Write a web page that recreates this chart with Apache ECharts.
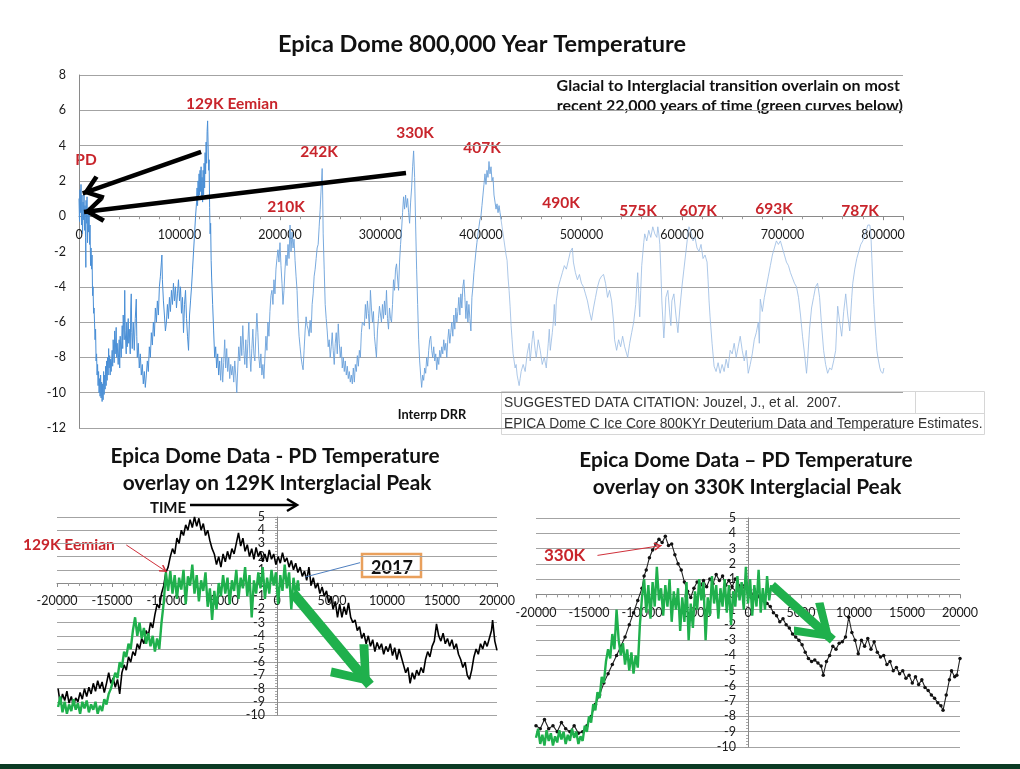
<!DOCTYPE html>
<html><head><meta charset="utf-8">
<script src="https://cdn.jsdelivr.net/npm/echarts@6/dist/echarts.min.js"></script>
<style>html,body{margin:0;padding:0;background:#fff}#c{width:1020px;height:769px}</style>
</head><body><div id="c"></div>
<script>
// ---- Top chart: Epica Dome temperature anomaly, [age kyr BP, deg C] ----
const epicaRecent = [[0,1.0],[0.5,-0.3],[1,1.5],[1.5,0.2],[2,1.8],[2.5,-0.5],[3,1.2],[3.5,-1.0],[4,0.8],[4.5,-0.2],[5,1.3],[5.5,-0.8],[6,0.6],[6.5,-1.2],[6.8,-2.9],[7,0.9],[7.5,-0.4],[8,1.1],[8.5,-1.5],[9,0.4],[9.5,-0.9],[10,0.5],[10.5,-1.6],[11,-0.5],[11.5,-2.8],[12,-1.8],[12.5,-3.0],[13,-2.2],[13.5,-4.5],[14,-4.0],[14.5,-5.5],[15,-5.2],[16,-7.0],[16.5,-6.4],[17,-8.2],[17.5,-7.8],[18,-9.0],[18.5,-8.4],[19,-9.6],[19.5,-8.8],[20,-10.0],[20.5,-9.2],[21,-10.2],[21.5,-9.0],[22,-10.3],[22.5,-9.4],[23,-10.5],[23.5,-9.5],[24,-10.4],[24.5,-8.8],[25,-10.1],[25.5,-9.0],[26,-9.8],[26.5,-8.5],[27,-9.6],[27.5,-8.2],[28,-9.3],[28.5,-8.0],[29,-9.0],[29.5,-7.5],[30,-8.6],[30.5,-7.9],[31,-9.0],[31.5,-8.1],[32,-8.8],[33,-7.6],[33.5,-8.5],[34,-7.0],[35,-8.3],[35.5,-6.5],[36,-7.8],[37,-6.3],[37.5,-8.0],[38,-7.2],[39,-8.4],[40,-7.0],[40.5,-8.6],[41,-6.8],[42,-8.0],[43,-6.2],[43.5,-7.5],[44,-5.6],[45,-7.0],[45.5,-4.2],[46,-6.5],[47,-7.8],[47.5,-6.0],[48,-7.4],[49,-5.8],[49.5,-7.2],[50,-6.4],[51,-7.8],[51.5,-5.2],[52,-4.4],[52.5,-6.6],[53,-7.5],[54,-6.0],[55,-7.6],[56,-5.8],[57,-4.7],[57.5,-6.8],[58,-8.0],[59,-7.2],[60,-8.6],[61,-7.8],[62,-9.0],[63,-8.4],[64,-9.5],[65,-8.8],[66,-9.7],[67,-9.0],[68,-8.2],[69,-8.8],[70,-7.4],[71,-8.0],[72,-6.6],[73,-7.3],[74,-6.0],[75,-6.8],[76,-5.2],[77,-6.0],[78,-4.8],[79,-5.6],[80,-4.0],[81,-3.4],[82,-2.6],[82.5,-2.2],[83,-3.6],[84,-4.8],[85,-5.6],[86,-6.5],[87,-6.0],[88,-5.0],[89,-5.8],[90,-4.6],[91,-5.4],[92,-4.2],[93,-5.0],[94,-3.8],[95,-4.8],[96,-4.0],[97,-5.2],[98,-4.4],[99,-3.6],[100,-4.8],[101,-4.0],[102,-5.5],[103,-4.6],[104,-6.6],[105,-5.0],[106,-4.2],[107,-5.8],[108,-6.8],[109,-7.6],[110,-5.6],[111,-4.8],[112,-4.0],[113,-3.0],[114,-2.0],[115,-1.0],[116,0.0],[117,0.8],[117.5,1.6],[118,0.6],[118.5,2.0],[119,1.0],[119.5,2.4],[120,1.2],[120.5,2.6],[121,1.4],[121.5,2.8],[122,1.0],[122.5,2.2],[123,0.8],[123.5,2.6],[124,1.2],[124.5,3.0],[125,1.6],[125.5,3.6],[126,2.4],[126.5,4.2],[127,3.0],[127.5,4.8],[128,5.4],[128.5,4.0],[129,2.6],[129.5,3.2],[130,0.5],[130.5,-1.0],[131,-0.4],[131.5,-2.5],[132,-3.5],[133,-5.0],[134,-6.5],[135,-8.0],[136,-7.4],[137,-8.6],[138,-7.8],[139,-9.0],[140,-8.2]];
const epicaMiddle = [[141,-9.3],[142,-8.0],[143,-9.4],[144,-8.3],[145,-7.0],[146,-8.6],[147,-7.5],[148,-8.8],[149,-8.0],[150,-9.2],[151,-8.4],[152,-9.0],[153,-8.5],[154,-9.4],[155,-8.2],[156,-9.0],[157,-10.0],[158,-8.6],[159,-7.4],[160,-8.2],[161,-6.8],[162,-7.9],[163,-6.2],[164,-7.6],[165,-8.4],[166,-7.0],[167,-8.6],[168,-7.2],[169,-6.0],[170,-7.8],[171,-8.8],[172,-7.5],[173,-6.4],[174,-7.8],[175,-8.2],[176,-6.8],[177,-5.5],[178,-6.6],[179,-8.0],[180,-8.6],[181,-7.8],[182,-9.0],[183,-8.4],[184,-9.2],[185,-8.0],[186,-6.8],[187,-7.6],[188,-6.0],[189,-6.8],[190,-5.4],[191,-4.5],[192,-4.2],[193,-5.0],[194,-3.6],[195,-4.4],[196,-3.0],[197,-2.4],[198,-1.9],[199,-2.6],[200,-1.5],[201,-2.8],[202,-3.8],[203,-5.0],[204,-4.2],[205,-3.0],[206,-2.2],[207,-2.8],[208,-1.6],[209,-2.4],[210,-0.5],[211,-2.0],[212,-0.9],[213,-1.8],[214,-1.3],[215,-2.5],[216,-3.4],[217,-4.2],[218,-5.8],[219,-6.8],[220,-7.4],[221,-8.0],[222,-8.4],[223,-8.7],[224,-7.6],[225,-6.5],[226,-5.7],[227,-6.2],[228,-6.4],[229,-6.8],[230,-5.9],[231,-6.6],[232,-5.0],[233,-4.4],[234,-3.4],[235,-3.0],[236,-2.4],[237,-1.8],[238,-1.6],[239,-0.6],[240,0.4],[241,1.6],[242,2.7],[242.5,1.2],[243,-1.0],[244,-3.0],[245,-5.0],[246,-5.8],[247,-6.5],[248,-7.4],[249,-7.0],[250,-8.0],[251,-7.4],[252,-6.6],[253,-7.6],[254,-8.4],[255,-7.2],[256,-6.6],[257,-7.8],[258,-6.1],[259,-7.2],[260,-8.0],[261,-7.4],[262,-8.6],[263,-8.0],[264,-8.8],[265,-8.2],[266,-9.0],[267,-8.5],[268,-9.2],[269,-8.8],[270,-9.4],[271,-9.0],[272,-9.5],[273,-8.6],[274,-9.4],[275,-8.4],[276,-8.8],[277,-7.9],[278,-8.5],[279,-7.6],[280,-8.0],[281,-6.6],[282,-6.0],[283,-6.0],[284,-6.2],[285,-5.0],[286,-5.8],[287,-4.8],[288,-5.5],[289,-6.4],[290,-4.2],[291,-5.2],[292,-6.0],[293,-5.4],[294,-6.8],[295,-7.4],[296,-8.0],[297,-6.5],[298,-5.8],[299,-5.1],[300,-5.2],[301,-6.0],[302,-5.0],[303,-5.8],[304,-4.8],[305,-5.6],[306,-4.2],[307,-5.8],[308,-6.4],[309,-5.2],[310,-5.8],[311,-6.0],[312,-5.0],[313,-3.6],[314,-4.2],[315,-3.0],[316,-2.7],[317,-3.5],[318,-4.2],[319,-2.6],[320,-1.6],[321,-0.8],[322,0.2],[323,1.1],[324,0.4],[325,1.2],[326,0.5],[327,1.0],[328,0.2],[329,-0.4],[330,0.8],[331,1.6],[332,2.8],[333,3.7],[334,2.2],[335,-0.5],[336,-3.0],[337,-5.0],[338,-7.0],[339,-8.2],[340,-9.0],[341,-9.7],[342,-9.0],[343,-9.3],[344,-8.6],[345,-8.9],[346,-8.0],[347,-8.5],[348,-7.6],[349,-7.0],[350,-6.8],[351,-7.6],[352,-8.0],[353,-7.4],[354,-8.2],[355,-7.8],[356,-8.7],[357,-8.0],[358,-8.4],[359,-7.6],[360,-8.0],[361,-7.4],[362,-7.8],[363,-7.0],[364,-7.6],[365,-7.2],[366,-8.0],[367,-7.0],[368,-6.4],[369,-7.2],[370,-6.6],[371,-6.0],[372,-6.8],[373,-5.6],[374,-6.4],[375,-5.2],[376,-6.0],[377,-5.4],[378,-4.6],[379,-5.6],[380,-4.4],[381,-5.2],[382,-4.0],[383,-3.6],[384,-4.6],[385,-5.8],[386,-4.8],[387,-6.0],[388,-5.0],[389,-5.8],[390,-6.5],[391,-4.6],[392,-4.0],[393,-3.2],[394,-2.6],[395,-2.0],[396,-1.5],[397,-1.0],[398,-0.6],[399,-0.2],[400,0.0],[401,0.6],[402,1.2],[403,1.8],[404,2.4],[405,1.8],[406,2.6],[407,2.2],[408,3.1],[409,2.4],[410,2.8],[411,2.0],[412,2.2],[413,1.2],[414,0.8],[415,0.4],[416,0.7],[417,0.2],[418,0.6],[419,0.2],[420,-0.2]];
const epicaEarly = [[421,-0.6],[422,-1.0],[423,-1.4],[424,-1.8],[425,-2.2],[426,-2.5],[427,-3.5],[428,-4.2],[429,-5.1],[430,-6.2],[431,-7.0],[432,-7.8],[433,-8.2],[434,-8.6],[435,-8.4],[436,-9.0],[437,-9.3],[438,-9.6],[439,-9.2],[440,-8.8],[442,-8.4],[444,-8.8],[446,-7.8],[448,-7.2],[449,-8.2],[451,-7.0],[452,-6.5],[454,-7.6],[455,-8.0],[457,-7.0],[459,-7.6],[461,-8.4],[463,-8.0],[465,-8.6],[467,-7.2],[468,-6.4],[469,-7.6],[471,-6.6],[472,-6.0],[473,-5.0],[474,-6.2],[475,-4.8],[477,-4.0],[479,-3.6],[481,-3.2],[483,-2.8],[485,-3.0],[487,-2.5],[489,-2.0],[491,-1.8],[492,-2.6],[494,-3.2],[496,-3.6],[498,-3.3],[500,-3.8],[502,-4.0],[504,-4.4],[506,-4.8],[508,-5.4],[510,-5.9],[512,-5.2],[514,-4.6],[516,-4.0],[518,-3.6],[520,-3.4],[522,-3.3],[524,-3.8],[526,-4.6],[528,-4.2],[530,-4.8],[532,-6.0],[533,-7.0],[535,-7.6],[537,-7.0],[539,-7.4],[541,-6.8],[543,-7.4],[545,-7.8],[546,-8.0],[548,-7.2],[550,-6.6],[552,-6.0],[554,-5.0],[555,-4.0],[556,-3.2],[557,-4.4],[558,-5.7],[559,-4.2],[560,-2.8],[562,-1.5],[563,-1.0],[565,-1.4],[567,-0.8],[569,-1.2],[571,-0.6],[573,-1.0],[575,-1.2],[576,-0.6],[577,-1.0],[578,-1.6],[579,-3.0],[580,-4.8],[582,-6.9],[583,-6.0],[584,-4.6],[586,-4.2],[588,-5.6],[589,-6.2],[590,-4.8],[592,-4.4],[594,-5.6],[596,-6.6],[598,-5.2],[600,-4.0],[602,-3.0],[604,-2.0],[606,-1.0],[607,-0.6],[609,-0.9],[611,-1.4],[613,-1.2],[615,-1.8],[617,-2.0],[619,-1.6],[621,-2.4],[623,-2.2],[625,-2.6],[626,-3.6],[627,-4.8],[628,-5.7],[630,-7.2],[632,-8.5],[634,-8.8],[636,-8.3],[638,-8.9],[640,-8.4],[642,-8.8],[644,-8.1],[646,-8.6],[648,-7.6],[650,-7.8],[652,-7.2],[654,-8.0],[656,-7.4],[658,-6.8],[660,-7.6],[662,-8.2],[664,-7.6],[666,-8.9],[668,-8.4],[670,-7.8],[672,-7.0],[674,-6.6],[676,-6.0],[677,-7.2],[678,-4.7],[680,-5.4],[682,-4.6],[684,-4.0],[686,-3.4],[688,-2.8],[690,-2.2],[692,-1.8],[694,-1.4],[696,-1.6],[698,-1.4],[700,-1.8],[702,-2.2],[704,-2.6],[706,-2.8],[708,-3.2],[710,-3.5],[712,-3.8],[714,-4.0],[716,-4.6],[718,-5.6],[720,-6.8],[722,-7.8],[724,-8.9],[725,-8.2],[727,-6.4],[729,-5.2],[731,-4.6],[733,-4.0],[735,-3.8],[737,-4.6],[739,-6.2],[741,-7.6],[743,-8.4],[745,-8.9],[747,-8.6],[749,-8.7],[751,-8.2],[753,-7.6],[755,-5.1],[757,-6.0],[759,-6.8],[761,-5.4],[763,-4.4],[765,-5.6],[767,-6.5],[769,-4.6],[770,-3.8],[772,-3.0],[774,-2.4],[776,-2.0],[778,-1.6],[780,-1.4],[782,-1.0],[784,-0.7],[785,-0.5],[786,-0.6],[787,-0.5],[788,-1.0],[789,-2.4],[790,-3.8],[791,-5.0],[792,-6.0],[793,-6.8],[794,-7.6],[795,-8.0],[797,-8.6],[798,-8.8],[800,-8.9],[801,-8.6]];
const topXTicks = [0,100000,200000,300000,400000,500000,600000,700000,800000];

// ---- Bottom-left: 129K interglacial (black) and present-day (green), [time kyr, deg C] ----
const eemian129 = [[-19.9,-8.0],[-19.7,-9.2],[-19.5,-8.4],[-19.3,-8.9],[-19.1,-8.2],[-18.9,-9.1],[-18.7,-8.6],[-18.5,-9.3],[-18.3,-8.7],[-18.1,-9.0],[-17.9,-8.3],[-17.7,-8.8],[-17.5,-8.0],[-17.3,-8.6],[-17.1,-7.9],[-16.9,-8.4],[-16.7,-7.6],[-16.5,-8.2],[-16.3,-7.4],[-16.1,-8.0],[-15.9,-7.5],[-15.7,-8.3],[-15.5,-7.6],[-15.3,-6.8],[-15.1,-7.6],[-14.9,-7.2],[-14.7,-7.9],[-14.5,-7.3],[-14.3,-8.4],[-14.1,-6.8],[-13.9,-6.2],[-13.7,-6.6],[-13.5,-5.6],[-13.3,-6.0],[-13.1,-5.2],[-12.9,-5.5],[-12.7,-4.6],[-12.5,-5.0],[-12.3,-4.2],[-12.1,-4.6],[-11.9,-3.6],[-11.7,-4.0],[-11.5,-3.0],[-11.3,-3.4],[-11.1,-2.4],[-10.9,-1.6],[-10.7,-1.9],[-10.5,-0.8],[-10.3,-0.2],[-10.1,0.8],[-9.9,1.2],[-9.7,2.0],[-9.5,2.6],[-9.3,2.2],[-9.1,3.4],[-8.9,3.0],[-8.7,4.0],[-8.5,3.6],[-8.3,4.4],[-8.1,4.0],[-7.9,4.8],[-7.7,4.2],[-7.5,5.0],[-7.3,4.3],[-7.1,4.9],[-6.9,4.0],[-6.7,4.5],[-6.5,3.6],[-6.3,4.0],[-6.1,3.2],[-5.9,2.6],[-5.7,2.2],[-5.5,1.4],[-5.3,2.0],[-5.1,1.2],[-4.9,2.2],[-4.7,1.6],[-4.5,2.4],[-4.3,1.8],[-4.1,2.6],[-3.9,2.2],[-3.7,3.0],[-3.5,3.8],[-3.3,2.8],[-3.1,3.4],[-2.9,2.4],[-2.7,2.9],[-2.5,2.0],[-2.3,2.6],[-2.1,1.8],[-1.9,2.7],[-1.7,2.0],[-1.5,2.4],[-1.3,1.6],[-1.1,2.2],[-0.9,1.6],[-0.7,2.5],[-0.5,1.8],[-0.3,2.2],[-0.1,1.4],[0.1,2.0],[0.3,1.5],[0.5,2.3],[0.7,1.6],[0.9,1.9],[1.1,1.2],[1.3,1.7],[1.5,1.0],[1.7,1.5],[1.9,0.8],[2.1,1.2],[2.3,0.5],[2.5,0.9],[2.7,0.2],[2.9,1.2],[3.1,-0.2],[3.3,0.4],[3.5,-0.4],[3.7,0.0],[3.9,-0.8],[4.1,-0.3],[4.3,-1.0],[4.5,-0.6],[4.7,-1.5],[4.9,-1.0],[5.1,-2.0],[5.3,-1.4],[5.5,-2.6],[5.7,-1.6],[5.9,-2.6],[6.1,-1.8],[6.3,-2.4],[6.5,-1.5],[6.7,-2.6],[6.9,-3.0],[7.1,-2.8],[7.3,-3.6],[7.5,-3.3],[7.7,-4.2],[7.9,-3.8],[8.1,-4.6],[8.3,-4.0],[8.5,-4.8],[8.7,-4.3],[8.9,-5.2],[9.1,-4.5],[9.3,-5.0],[9.5,-4.6],[9.7,-5.4],[9.9,-4.8],[10.1,-5.2],[10.3,-4.6],[10.5,-5.5],[10.7,-4.9],[10.9,-5.8],[11.1,-5.0],[11.3,-5.6],[11.5,-6.2],[11.7,-6.8],[11.9,-6.4],[12.1,-7.6],[12.3,-6.8],[12.5,-7.3],[12.7,-6.6],[12.9,-7.0],[13.1,-6.4],[13.3,-6.8],[13.5,-5.8],[13.7,-5.2],[13.9,-5.6],[14.1,-4.8],[14.3,-4.4],[14.5,-3.1],[14.7,-4.0],[14.9,-4.4],[15.1,-3.8],[15.3,-4.6],[15.5,-4.2],[15.7,-4.8],[15.9,-4.3],[16.1,-5.0],[16.3,-4.6],[16.5,-5.4],[16.7,-5.8],[16.9,-6.4],[17.1,-6.0],[17.3,-7.0],[17.5,-7.3],[17.7,-6.6],[17.9,-5.6],[18.1,-5.0],[18.3,-5.4],[18.5,-4.6],[18.7,-5.0],[18.9,-4.4],[19.1,-4.8],[19.3,-4.2],[19.5,-3.6],[19.6,-2.8],[19.8,-4.4],[20.0,-5.1]];
const presentDayA = [[-19.9,-9.4],[-19.7,-8.6],[-19.5,-9.8],[-19.3,-9.0],[-19.1,-9.9],[-18.9,-9.2],[-18.7,-9.7],[-18.5,-8.8],[-18.3,-9.6],[-18.1,-9.1],[-17.9,-9.9],[-17.7,-9.0],[-17.5,-9.5],[-17.3,-8.9],[-17.1,-9.8],[-16.9,-9.2],[-16.7,-9.6],[-16.5,-9.0],[-16.3,-9.9],[-16.1,-9.3],[-15.9,-9.7],[-15.7,-8.8],[-15.5,-9.2],[-15.3,-8.4],[-15.1,-8.0],[-14.9,-7.4],[-14.7,-6.8],[-14.5,-7.2],[-14.3,-6.0],[-14.1,-6.4],[-13.9,-5.2],[-13.7,-5.6],[-13.5,-4.6],[-13.3,-5.0],[-13.1,-3.6],[-12.9,-2.6],[-12.7,-4.0],[-12.5,-3.0],[-12.3,-4.2],[-12.1,-3.4],[-11.9,-4.6],[-11.7,-3.8],[-11.5,-4.8],[-11.3,-4.0],[-11.1,-5.2],[-10.9,-4.2],[-10.7,-5.0],[-10.5,-3.0],[-10.3,-1.5],[-10.1,0.8],[-9.9,-0.6],[-9.7,0.9],[-9.5,-0.8],[-9.3,0.6],[-9.1,-1.2],[-8.9,0.4],[-8.7,-0.5],[-8.5,1.0],[-8.3,-1.6],[-8.1,0.5],[-7.9,-0.2],[-7.7,1.4],[-7.5,-0.8],[-7.3,0.6],[-7.1,-1.4],[-6.9,0.2],[-6.7,-0.6],[-6.5,0.8],[-6.3,-1.8],[-6.1,-0.4],[-5.9,-2.8],[-5.7,-0.6],[-5.5,-2.0],[-5.3,0.0],[-5.1,-1.0],[-4.9,0.6],[-4.7,-0.8],[-4.5,0.4],[-4.3,-1.6],[-4.1,0.2],[-3.9,-0.6],[-3.7,1.0],[-3.5,-1.2],[-3.3,0.4],[-3.1,-0.4],[-2.9,1.2],[-2.7,-1.0],[-2.5,0.6],[-2.3,-2.6],[-2.1,0.2],[-1.9,-0.8],[-1.7,0.8],[-1.5,-0.4],[-1.3,1.2],[-1.1,-1.2],[-0.9,0.4],[-0.7,-0.8],[-0.5,1.0],[-0.3,-0.2],[-0.1,0.8],[0.1,-1.6],[0.3,0.6],[0.5,-0.6],[0.7,1.4],[0.9,-0.4],[1.1,0.8],[1.3,-2.0],[1.5,0.4],[1.7,-0.8],[1.9,0.2],[2.0,-0.6]];

// ---- Bottom-right: 330K interglacial (black, markers) and present-day (green) ----
const peak330 = [[-20.0,-8.6],[-19.6,-8.8],[-19.2,-8.2],[-18.8,-8.8],[-18.4,-8.6],[-18.0,-9.0],[-17.6,-8.4],[-17.2,-8.8],[-16.8,-9.0],[-16.4,-8.6],[-16.0,-9.1],[-15.6,-9.0],[-15.2,-8.6],[-14.8,-8.0],[-14.4,-7.2],[-14.0,-6.6],[-13.6,-5.8],[-13.2,-5.2],[-12.8,-4.6],[-12.4,-4.0],[-12.0,-3.4],[-11.6,-2.8],[-11.2,-2.0],[-10.8,-1.2],[-10.4,-0.4],[-10.0,0.4],[-9.8,1.2],[-9.6,1.6],[-9.3,2.4],[-9.0,2.9],[-8.7,3.3],[-8.4,3.6],[-8.1,3.4],[-7.8,3.8],[-7.5,3.2],[-7.2,3.3],[-6.9,2.6],[-6.6,2.0],[-6.3,1.6],[-6.0,0.8],[-5.7,0.2],[-5.4,-0.2],[-5.1,0.4],[-4.8,0.8],[-4.5,0.6],[-4.2,0.9],[-3.9,0.5],[-3.6,1.0],[-3.3,0.7],[-3.0,1.3],[-2.7,0.9],[-2.4,1.2],[-2.1,0.6],[-1.8,0.9],[-1.5,0.5],[-1.2,1.0],[-0.9,0.6],[-0.6,0.2],[-0.3,0.6],[0.0,0.1],[0.3,-0.2],[0.6,0.3],[0.9,-0.1],[1.2,-0.4],[1.5,-0.3],[1.8,-0.6],[2.1,-0.8],[2.4,-1.2],[2.7,-1.4],[3.0,-1.8],[3.3,-1.6],[3.6,-2.0],[3.9,-2.2],[4.2,-2.6],[4.5,-2.8],[4.8,-3.0],[5.1,-3.3],[5.4,-3.8],[5.7,-4.2],[6.0,-4.4],[6.3,-4.3],[6.6,-4.5],[6.9,-4.7],[7.1,-5.3],[7.4,-4.4],[7.7,-4.0],[8.0,-3.4],[8.3,-3.6],[8.6,-3.2],[8.9,-3.1],[9.2,-2.8],[9.5,-1.5],[9.8,-2.5],[10.1,-3.0],[10.4,-3.9],[10.7,-3.0],[11.0,-3.4],[11.3,-2.9],[11.6,-3.6],[11.9,-3.1],[12.2,-3.8],[12.5,-4.1],[12.8,-4.0],[13.1,-4.6],[13.4,-4.4],[13.7,-5.0],[14.0,-4.8],[14.3,-5.2],[14.6,-5.0],[14.9,-5.5],[15.2,-5.3],[15.5,-5.8],[15.8,-5.4],[16.1,-5.9],[16.4,-5.6],[16.7,-6.1],[17.0,-6.3],[17.3,-6.6],[17.6,-6.8],[17.9,-7.1],[18.2,-7.3],[18.4,-7.6],[18.7,-6.6],[19.0,-5.6],[19.2,-5.0],[19.5,-5.4],[19.7,-5.3],[20.0,-4.2]];
const presentDayB = [[-20.0,-9.4],[-19.8,-8.8],[-19.6,-9.8],[-19.4,-9.2],[-19.2,-9.9],[-19.0,-8.9],[-18.8,-9.6],[-18.6,-9.1],[-18.4,-9.9],[-18.2,-9.3],[-18.0,-9.7],[-17.8,-8.9],[-17.6,-9.5],[-17.4,-9.0],[-17.2,-9.8],[-17.0,-9.2],[-16.8,-9.6],[-16.6,-8.8],[-16.4,-9.4],[-16.2,-9.0],[-16.0,-9.8],[-15.8,-9.3],[-15.6,-9.6],[-15.4,-8.6],[-15.2,-9.0],[-15.0,-8.0],[-14.8,-8.4],[-14.6,-7.2],[-14.4,-7.6],[-14.2,-6.4],[-14.0,-6.8],[-13.8,-5.4],[-13.6,-5.8],[-13.4,-4.4],[-13.2,-3.6],[-13.0,-4.2],[-12.8,-2.6],[-12.6,-3.6],[-12.4,-1.0],[-12.2,-3.0],[-12.0,-4.0],[-11.8,-3.2],[-11.6,-4.6],[-11.4,-3.6],[-11.2,-5.0],[-11.0,-3.8],[-10.8,-5.2],[-10.6,-4.0],[-10.4,-4.8],[-10.2,-2.0],[-10.0,-0.2],[-9.8,1.0],[-9.6,-1.2],[-9.4,0.6],[-9.2,-1.6],[-9.0,0.8],[-8.8,-0.8],[-8.6,1.8],[-8.4,-0.4],[-8.2,0.4],[-8.0,-1.4],[-7.8,0.6],[-7.6,-0.8],[-7.4,1.0],[-7.2,-1.8],[-7.0,0.2],[-6.8,-1.0],[-6.6,0.4],[-6.4,-2.4],[-6.2,-0.2],[-6.0,-1.8],[-5.8,0.8],[-5.6,-3.0],[-5.4,-0.6],[-5.2,-2.2],[-5.0,0.2],[-4.8,-1.0],[-4.6,1.0],[-4.4,-0.4],[-4.2,0.8],[-4.0,-3.0],[-3.8,-0.2],[-3.6,-1.4],[-3.4,1.2],[-3.2,-0.6],[-3.0,0.6],[-2.8,-1.6],[-2.6,0.4],[-2.4,-0.8],[-2.2,1.0],[-2.0,-1.2],[-1.8,0.6],[-1.6,-2.0],[-1.4,0.2],[-1.2,-0.8],[-1.0,1.2],[-0.8,-0.4],[-0.6,0.8],[-0.4,-1.0],[-0.2,1.8],[0.0,-0.6],[0.2,1.0],[0.4,-1.4],[0.6,0.6],[0.8,-0.8],[1.0,1.6],[1.2,-1.2],[1.4,0.4],[1.6,-1.0],[1.8,1.2],[2.0,-0.4],[2.2,0.6]];
const bottomXTicks = [-20000,-15000,-10000,-5000,0,5000,10000,15000,20000];

const peakLabels = ['PD','129K Eemian','210K','242K','330K','407K','490K','575K','607K','693K','787K'];

// ------------------------------------------------------------------
const toYears = arr => arr.map(p => [p[0] * 1000, p[1]]);
const CHEV = 'path://M5,0 M5,10 L10,18.5 L8.6,20 L5,13.6 L1.4,20 L0,18.5 Z';
const FONT = 'Lato, "Open Sans", sans-serif';
const RED = '#c8242b';
const GREEN = '#1fb04c';

const chart = echarts.init(document.getElementById('c'), null, {renderer: 'canvas'});

function xAxisCfg(grid, min, max, interval, ticks, margin) {
  return {
    type: 'value', gridIndex: grid, min: min, max: max, interval: interval, position: 'bottom',
    axisLine: {show: true, onZero: false, lineStyle: {color: '#8a8a8a', width: 1}},
    axisTick: {show: true, length: 4, lineStyle: {color: '#8a8a8a'}},
    minorTick: {show: true, splitNumber: 5, length: 3, lineStyle: {color: '#9a9a9a'}},
    splitLine: {show: false},
    axisLabel: {
      show: true, margin: margin, fontSize: 12.5, fontFamily: FONT, color: '#1a1a1a',
      showMinLabel: true, showMaxLabel: true, hideOverlap: false,
      formatter: v => (ticks.indexOf(v) >= 0 ? String(v) : '')
    }
  };
}
function yAxisCfg(grid, min, max, interval, margin, minor) {
  return {
    type: 'value', gridIndex: grid, min: min, max: max, interval: interval, position: 'left',
    axisLine: {show: true, onZero: false, lineStyle: {color: '#8a8a8a', width: 1}},
    axisTick: {show: minor, length: 3, lineStyle: {color: '#9a9a9a'}},
    minorTick: {show: minor, splitNumber: 5, length: 2, lineStyle: {color: '#aaaaaa'}},
    splitLine: {show: true, lineStyle: {color: '#a3a3a3', width: 1}},
    axisLabel: {show: true, margin: margin, fontSize: 12.5, fontFamily: FONT, color: '#1a1a1a',
      showMinLabel: true, showMaxLabel: true}
  };
}

const lineBase = {type: 'line', showSymbol: false, animation: false, silent: true, clip: false};
const arrowLine = (from, to, color, width, size) => [
  {coord: from, symbol: 'none', lineStyle: {color: color, width: width, type: 'solid'}},
  {coord: to, symbol: CHEV, symbolSize: size}
];
const mlBase = {silent: true, animation: false, label: {show: false}, emphasis: {disabled: true}};

const recentY = toYears(epicaRecent);
const middleY = [recentY[recentY.length - 1]].concat(toYears(epicaMiddle));
const earlyY = [middleY[middleY.length - 1]].concat(toYears(epicaEarly));

const txt = (x, y, text, font, fill, align) => ({
  type: 'text', silent: true, x: x, y: y,
  style: {text: text, font: font, fill: fill, textAlign: align || 'center', textVerticalAlign: 'middle'}
});
const bold = s => 'bold ' + s + 'px ' + FONT;

const peakPos = [[86,160],[232,104],[286,207],[319,152],[415,133],[482,148],[561,203],[638,211],[698,211],[774,209],[860,211]];

const graphics = [
  txt(482, 44, 'Epica Dome 800,000 Year Temperature', bold(23.5), '#111'),
  txt(900, 86, 'Glacial to Interglacial transition overlain on most', bold(16), '#111', 'right'),
  txt(903, 106, 'recent 22,000 years of time (green curves below)', bold(16), '#111', 'right'),
  txt(432, 415, 'Interrp DRR', bold(12.8), '#111'),
  // citation table
  {type: 'rect', silent: true, shape: {x: 501.5, y: 391.5, width: 483, height: 43},
   style: {fill: '#fff', stroke: '#d6d6d6', lineWidth: 1}},
  {type: 'line', silent: true, shape: {x1: 501.5, y1: 413.5, x2: 984.5, y2: 413.5}, style: {stroke: '#d6d6d6', lineWidth: 1}},
  {type: 'line', silent: true, shape: {x1: 915.5, y1: 391.5, x2: 915.5, y2: 413.5}, style: {stroke: '#d6d6d6', lineWidth: 1}},
  txt(504, 403, 'SUGGESTED DATA CITATION: Jouzel, J., et al.  2007.', '13.8px "Liberation Sans", Arial, sans-serif', '#333', 'left'),
  txt(504, 424, 'EPICA Dome C Ice Core 800KYr Deuterium Data and Temperature Estimates.', '13.8px "Liberation Sans", Arial, sans-serif', '#333', 'left'),
  // bottom titles
  txt(275, 456, 'Epica Dome Data - PD Temperature', bold(20.8), '#111'),
  txt(277, 483, 'overlay on 129K Interglacial Peak', bold(20.8), '#111'),
  txt(746, 460, 'Epica Dome Data \u2013 PD Temperature', bold(20.8), '#111'),
  txt(747, 487, 'overlay on 330K Interglacial Peak', bold(20.8), '#111'),
  // TIME arrow
  txt(168, 508, 'TIME', bold(15), '#111'),
  {type: 'line', silent: true, shape: {x1: 190, y1: 505, x2: 296, y2: 505}, style: {stroke: '#000', lineWidth: 2.5}},
  {type: 'polyline', silent: true, shape: {points: [[287, 499], [297, 505], [287, 511]]}, style: {stroke: '#000', lineWidth: 2.5, fill: null}},
  txt(23, 545, '129K Eemian', bold(15.5), RED, 'left'),
  txt(544, 556, '330K', bold(17), RED, 'left'),
  // 2017 callout box
  {type: 'rect', silent: true, shape: {x: 362, y: 554, width: 59, height: 23},
   style: {fill: '#fff', stroke: '#e9a05c', lineWidth: 2.5}},
  txt(392, 568, '2017', bold(18), '#111'),
  // bottom band
  {type: 'rect', silent: true, shape: {x: 0, y: 764, width: 1020, height: 5}, style: {fill: '#0b3b24'}}
];
peakLabels.forEach((t, i) => graphics.push(txt(peakPos[i][0], peakPos[i][1], t, bold(15.5), RED)));

const grids = [
  {left: 79, top: 75, width: 824, height: 353},
  {left: 57, top: 517, width: 440, height: 198},
  {left: 536, top: 518, width: 424, height: 229}
];

const option = {
  backgroundColor: '#ffffff',
  animation: false,
  grid: grids.map(g => Object.assign({outerBoundsMode: 'none', containLabel: false}, g)),
  xAxis: [
    xAxisCfg(0, 0, 820000, 100000, topXTicks, 12),
    xAxisCfg(1, -20000, 20000, 5000, bottomXTicks, 11),
    xAxisCfg(2, -20000, 20000, 5000, bottomXTicks, 12)
  ],
  yAxis: [
    yAxisCfg(0, -12, 8, 2, 13, false),
    yAxisCfg(1, -10, 5, 1, 12, true),
    yAxisCfg(2, -10, 5, 1, 12, true)
  ],
  series: [
    Object.assign({}, lineBase, {name: 'EPICA recent', xAxisIndex: 0, yAxisIndex: 0, data: recentY, z: 3,
      lineStyle: {color: '#4a8fd6', width: 1},
      markLine: Object.assign({}, mlBase, {data: [
        arrowLine([121500, 3.64], [3700, 1.30], '#000', 4.5, [26, 40]),
        arrowLine([325400, 2.45], [5000, 0.24], '#000', 4.5, [26, 40])
      ]})}),
    Object.assign({}, lineBase, {name: 'EPICA middle', xAxisIndex: 0, yAxisIndex: 0, data: middleY, z: 2,
      lineStyle: {color: '#6aa0da', width: 0.9}}),
    Object.assign({}, lineBase, {name: 'EPICA early', xAxisIndex: 0, yAxisIndex: 0, data: earlyY, z: 2,
      lineStyle: {color: '#98bae2', width: 0.8}}),
    Object.assign({}, lineBase, {name: '129K', xAxisIndex: 1, yAxisIndex: 1, data: toYears(eemian129), z: 3,
      lineStyle: {color: '#000', width: 1.6}}),
    Object.assign({}, lineBase, {name: 'PD A', xAxisIndex: 1, yAxisIndex: 1, data: toYears(presentDayA), z: 4,
      lineStyle: {color: GREEN, width: 2.4},
      markLine: Object.assign({}, mlBase, {data: [
        arrowLine([1450, -0.76], [8450, -7.73], GREEN, 10, [50, 76]),
        arrowLine([-13700, 2.88], [-10000, 0.83], '#d0303a', 1, [8, 16]),
        [{coord: [7550, 1.54], symbol: 'none', lineStyle: {color: '#4f7fbf', width: 1, type: 'solid'}},
         {coord: [2550, 0.45], symbol: 'none'}]
      ]})}),
    Object.assign({}, lineBase, {name: '330K', xAxisIndex: 2, yAxisIndex: 2, data: toYears(peak330), z: 3,
      showSymbol: true, symbol: 'circle', symbolSize: 3.5, itemStyle: {color: '#111'},
      lineStyle: {color: '#222', width: 1.1}}),
    Object.assign({}, lineBase, {name: 'PD B', xAxisIndex: 2, yAxisIndex: 2, data: toYears(presentDayB), z: 4,
      lineStyle: {color: GREEN, width: 2.4},
      markLine: Object.assign({}, mlBase, {data: [
        arrowLine([2260, 0.59], [8000, -3.0], GREEN, 9, [44, 76]),
        arrowLine([-14200, 2.55], [-8140, 3.2], '#d0303a', 1, [8, 16])
      ]})})
  ],
  graphic: graphics
};
chart.setOption(option);

// Place each x axis on its y = 0 line and each y axis on its x = 0 line,
// using the library's own scales to find where zero falls.
const xOff = [], yOff = [];
grids.forEach((g, i) => {
  const p = chart.convertToPixel({xAxisIndex: i, yAxisIndex: i}, [0, 0]);
  xOff.push({offset: p[1] - (g.top + g.height)});
  yOff.push({offset: g.left - p[0]});
});
chart.setOption({xAxis: xOff, yAxis: yOff});
</script>
</body></html>
